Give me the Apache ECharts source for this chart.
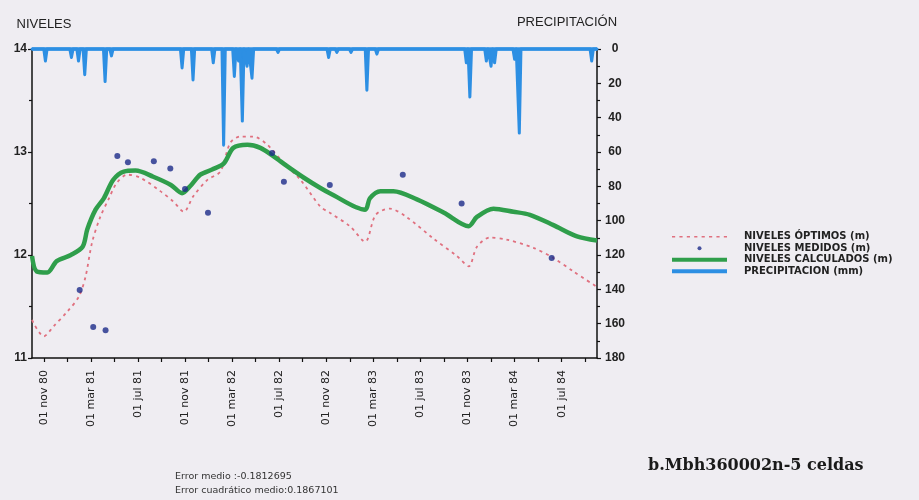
<!DOCTYPE html>
<html><head><meta charset="utf-8">
<script src="https://cdn.jsdelivr.net/npm/echarts@6/dist/echarts.min.js"></script>
<style>html,body{margin:0;padding:0;background:#efedf2}#c{width:919px;height:500px}</style>
</head><body><div id="c"></div>
<script>
// x unit: months since 01 nov 1980
const tickLabels = ['01 nov 80','01 mar 81','01 jul 81','01 nov 81','01 mar 82','01 jul 82','01 nov 82','01 mar 83','01 jul 83','01 nov 83','01 mar 84','01 jul 84'];
const labelMonths = [0,4,8,12,16,20,24,28,32,36,40,44];
const tickMonths = [0,2,4,6,8,10,12,14,16,18,20,22,24,26,28,30,32,34,36,38,40,42,44,46];

const calcMonths = [-1,-0.6,0.3,1.1,2.3,3.3,3.7,4.4,5.1,5.9,6.8,7.8,9.3,10.8,11.75,12.45,13.3,14.3,15.3,16.1,17.3,18.4,19.5,20.7,22.1,23.5,24.3,27.3,27.7,28.6,29.7,31.7,34.0,36.1,36.8,38.2,39.9,41.3,43.3,45.3,47];
const calcValues = [11.99,11.84,11.83,11.94,12.0,12.08,12.25,12.44,12.55,12.73,12.81,12.82,12.76,12.68,12.60,12.67,12.78,12.83,12.89,13.04,13.07,13.04,12.96,12.86,12.75,12.65,12.60,12.44,12.55,12.62,12.62,12.54,12.41,12.28,12.37,12.45,12.42,12.39,12.29,12.18,12.14];

const optMonths = [-1,0,0.85,2,3,3.55,4.1,4.8,5.5,6.2,7.1,8.2,9.9,11.0,11.9,12.7,13.9,15.0,15.85,16.7,17.8,19.0,20.4,21.8,23.5,24.3,26.0,27.3,28.2,29.4,30.8,33.1,35.1,36.1,36.8,37.9,39.3,41.6,43.3,45.0,47];
const optValues = [11.37,11.21,11.31,11.45,11.60,11.79,12.12,12.37,12.54,12.70,12.78,12.75,12.62,12.52,12.42,12.57,12.73,12.81,13.09,13.15,13.15,13.07,12.89,12.73,12.47,12.41,12.28,12.13,12.39,12.45,12.37,12.16,11.99,11.89,12.08,12.17,12.15,12.07,11.97,11.84,11.69];

const medMonths = [3.05,4.2,5.25,6.25,7.15,9.35,10.75,12.0,13.95,19.4,20.4,24.3,30.5,35.5,43.15];
const medValues = [11.66,11.30,11.27,12.96,12.90,12.91,12.84,12.64,12.41,12.99,12.71,12.68,12.78,12.50,11.97];

const precipMonths = [0.14,2.35,2.95,3.48,5.21,5.75,11.75,12.68,14.4,15.28,16.19,16.55,16.87,17.27,17.69,19.9,24.2,24.9,26.1,27.45,28.3,35.9,36.2,37.6,38.0,38.3,40.0,40.4,46.55];
const precipValues = [7,5,7,15,19,4,11,18,8,56,16,7,42,10,17,2,5,2,2,24,3,8,28,7,10,8,6,49,7];

const pair = (xs, ys) => xs.map((x, i) => [x, ys[i]]);
const precipData = [[-1, 0]];
precipMonths.forEach((m, i) => {
  precipData.push([m - 0.14, 0], [m, precipValues[i]], [m + 0.14, 0]);
});
precipData.push([47, 0]);

const AX = '#111';
const BLUE = '#2d8fe3';
const chart = echarts.init(document.getElementById('c'));
chart.setOption({
  backgroundColor: '#efedf2',
  animation: false,
  title: [
    {text: 'b.Mbh360002n-5 celdas', left: 648, top: 458, padding: 0,
     textStyle: {fontFamily: 'DejaVu Serif', fontWeight: 'bold', fontSize: 16, color: '#1a1a1a'}},
    {text: 'Error medio :-0.1812695', left: 175, top: 472, padding: 0,
     textStyle: {fontFamily: 'DejaVu Sans', fontWeight: 'normal', fontSize: 9.5, color: '#333'}},
    {text: 'Error cuadrático medio:0.1867101', left: 175, top: 486, padding: 0,
     textStyle: {fontFamily: 'DejaVu Sans', fontWeight: 'normal', fontSize: 9.5, color: '#333'}}
  ],
  legend: {
    orient: 'vertical', left: 672, top: 231, padding: 0,
    itemWidth: 55, itemHeight: 4, itemGap: 0,
    textStyle: {fontFamily: 'DejaVu Sans', fontWeight: 'bold', fontSize: 10, color: '#222', lineHeight: 11.5, padding: [0, 0, 0, 12]},
    data: [
      {name: 'NIVELES ÓPTIMOS (m)', icon: 'path://M0,0h3v1.3h-3zM7,0h3v1.3h-3zM14,0h3v1.3h-3zM21,0h3v1.3h-3zM28,0h3v1.3h-3zM35,0h3v1.3h-3zM42,0h3v1.3h-3zM49,0h3v1.3h-3z'},
      {name: 'NIVELES MEDIDOS (m)', icon: 'circle'},
      {name: 'NIVELES CALCULADOS (m)', icon: 'rect'},
      {name: 'PRECIPITACION (mm)', icon: 'rect'}
    ]
  },
  grid: {left: 32, right: 322, top: 49, bottom: 142, containLabel: false},
  xAxis: {
    type: 'value', min: -1, max: 47,
    axisLine: {show: true, onZero: false, lineStyle: {color: AX, width: 1.5}},
    axisTick: {show: true, customValues: tickMonths, length: 4, lineStyle: {color: AX, width: 1.2}},
    axisLabel: {customValues: labelMonths, rotate: 90, margin: 12, fontFamily: 'DejaVu Sans', fontSize: 11, color: '#222',
      formatter: v => tickLabels[labelMonths.indexOf(Math.round(v))] || ''},
    splitLine: {show: false}
  },
  yAxis: [
    {type: 'value', min: 11, max: 14, interval: 1, position: 'left',
     name: 'NIVELES', nameLocation: 'end', nameGap: 18,
     nameTextStyle: {fontFamily: 'Liberation Sans', fontSize: 13, color: '#222', align: 'center', padding: [0, 0, 0, 24]},
     axisLine: {show: true, onZero: false, lineStyle: {color: AX, width: 1.5}},
     axisTick: {show: true, length: 4, lineStyle: {color: AX, width: 1.2}},
     minorTick: {show: true, splitNumber: 2, length: 3, lineStyle: {color: AX, width: 1.2}},
     axisLabel: {margin: 5, fontFamily: 'Liberation Sans', fontWeight: 'bold', fontSize: 12, color: '#222'},
     splitLine: {show: false}},
    {type: 'value', min: 0, max: 180, interval: 20, position: 'right', inverse: true,
     name: 'PRECIPITACIÓN', nameLocation: 'start', nameGap: 20,
     nameTextStyle: {fontFamily: 'Liberation Sans', fontSize: 13, color: '#222', align: 'center', padding: [0, 60, 0, 0]},
     axisLine: {show: true, onZero: false, lineStyle: {color: AX, width: 1.5}},
     axisTick: {show: true, length: 4, lineStyle: {color: AX, width: 1.2}},
     minorTick: {show: true, splitNumber: 2, length: 3, lineStyle: {color: AX, width: 1.2}},
     axisLabel: {margin: 18, align: 'center', fontFamily: 'Liberation Sans', fontWeight: 'bold', fontSize: 12, color: '#222'},
     splitLine: {show: false}}
  ],
  series: [
    {name: 'NIVELES ÓPTIMOS (m)', type: 'line', yAxisIndex: 0, data: pair(optMonths, optValues),
     symbol: 'none', smooth: 0.3, itemStyle: {color: '#e0707f'},
     lineStyle: {color: '#e0707f', width: 1.8, type: [3, 4]}, z: 3},
    {name: 'NIVELES CALCULADOS (m)', type: 'line', yAxisIndex: 0, data: pair(calcMonths, calcValues),
     symbol: 'none', smooth: 0.3, itemStyle: {color: '#2f9e4b'},
     lineStyle: {color: '#2f9e4b', width: 4.5}, z: 4},
    {name: 'NIVELES MEDIDOS (m)', type: 'scatter', yAxisIndex: 0, data: pair(medMonths, medValues),
     symbol: 'circle', symbolSize: 6, itemStyle: {color: '#1b2a88'}, z: 5},
    {name: 'PRECIPITACION (mm)', type: 'line', yAxisIndex: 1, data: precipData,
     symbol: 'none', clip: false, itemStyle: {color: BLUE},
     lineStyle: {color: BLUE, width: 3, join: 'round', cap: 'round'}, areaStyle: {color: BLUE, opacity: 1},
     markLine: {silent: true, symbol: 'none', label: {show: false},
       lineStyle: {color: BLUE, width: 3.5, type: 'solid'}, data: [{yAxis: 0}]},
     z: 2}
  ]
});
</script></body></html>
